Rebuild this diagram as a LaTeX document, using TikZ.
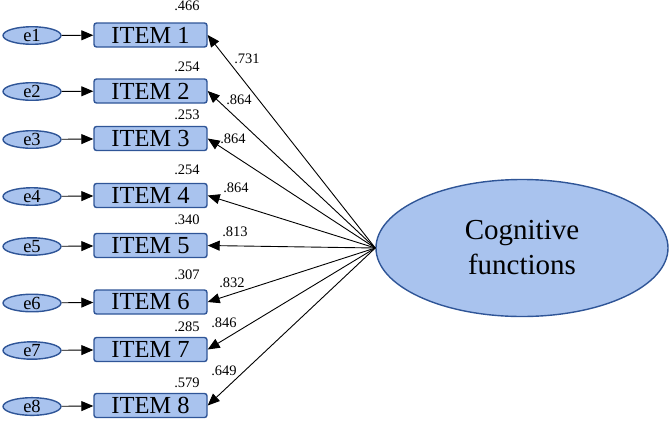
\documentclass[tikz,border=0pt]{standalone}
\usepackage{fontspec}
\setmainfont{Liberation Serif}
\usepackage{tikz}
\usetikzlibrary{arrows.meta,shapes.geometric}

\definecolor{boxfill}{HTML}{A9C3EE}
\definecolor{boxline}{HTML}{2F5597}

\begin{document}
\begin{tikzpicture}[x=1pt, y=-1pt,
        item/.style={draw=boxline, fill=boxfill, line width=1.4pt, rounded corners=2.5pt,
            minimum width=113pt, minimum height=24pt, inner sep=0pt,
            font=\fontsize{24.5}{26}\selectfont},
        err/.style={ellipse, draw=boxline, fill=boxfill, line width=1.4pt,
            minimum width=58pt, minimum height=15pt, inner sep=0pt,
            font=\fontsize{18.5}{18}\selectfont},
        lbl/.style={inner sep=0pt, font=\fontsize{14.5}{14}\selectfont},
        tip/.style={-{Triangle[length=12pt,width=10pt]}, line width=0.9pt}]
        \useasboundingbox (0,0) rectangle (669,421);

        \node[ellipse, draw=boxline, fill=boxfill, line width=1.4pt, minimum width=292pt,
            minimum height=137pt, inner sep=0pt, align=center,
            font=\fontsize{29}{35}\selectfont] (cf) at (522,248) {Cognitive\\functions};

        \node[item] (i1) at (150.5,35) {ITEM 1};
        \node[item] (i2) at (150.5,91) {ITEM 2};
        \node[item] (i3) at (150.5,138.5) {ITEM 3};
        \node[item] (i4) at (150.5,195.5) {ITEM 4};
        \node[item] (i5) at (150.5,245.5) {ITEM 5};
        \node[item] (i6) at (150.5,302) {ITEM 6};
        \node[item] (i7) at (150.5,349.5) {ITEM 7};
        \node[item] (i8) at (150.5,405.5) {ITEM 8};

        \node[err] (e1) at (32,35.5) {e1};
        \node[err] (e2) at (32,91.5) {e2};
        \node[err] (e3) at (32,139.5) {e3};
        \node[err] (e4) at (32,196.5) {e4};
        \node[err] (e5) at (32,246.5) {e5};
        \node[err] (e6) at (32,303) {e6};
        \node[err] (e7) at (32,350.5) {e7};
        \node[err] (e8) at (32,406.5) {e8};

        \node[lbl] (r1) at (187,6) {.466};
        \node[lbl] (r2) at (187,67) {.254};
        \node[lbl] (r3) at (187,115) {.253};
        \node[lbl] (r4) at (187,170) {.254};
        \node[lbl] (r5) at (187,220) {.340};
        \node[lbl] (r6) at (187,275) {.307};
        \node[lbl] (r7) at (187,327) {.285};
        \node[lbl] (r8) at (187,383) {.579};

        \node[lbl] (w1) at (247,59) {.731};
        \node[lbl] (w2) at (239,100) {.864};
        \node[lbl] (w3) at (233,139) {.864};
        \node[lbl] (w4) at (236,188) {.864};
        \node[lbl] (w5) at (235,232) {.813};
        \node[lbl] (w6) at (232,283) {.832};
        \node[lbl] (w7) at (224,323) {.846};
        \node[lbl] (w8) at (224,371) {.649};

        \draw (e1) edge[tip] (i1)
              (e2) edge[tip] (i2)
              (e3) edge[tip] (i3)
              (e4) edge[tip] (i4)
              (e5) edge[tip] (i5)
              (e6) edge[tip] (i6)
              (e7) edge[tip] (i7)
              (e8) edge[tip] (i8);

        \draw (cf.west) edge[tip] (i1.east)
              (cf.west) edge[tip] (i2.east)
              (cf.west) edge[tip] (i3.east)
              (cf.west) edge[tip] (i4.east)
              (cf.west) edge[tip] (i5.east)
              (cf.west) edge[tip] (i6.east)
              (cf.west) edge[tip] (i7.east)
              (cf.west) edge[tip] (i8.east);
    \end{tikzpicture}
\end{document}
